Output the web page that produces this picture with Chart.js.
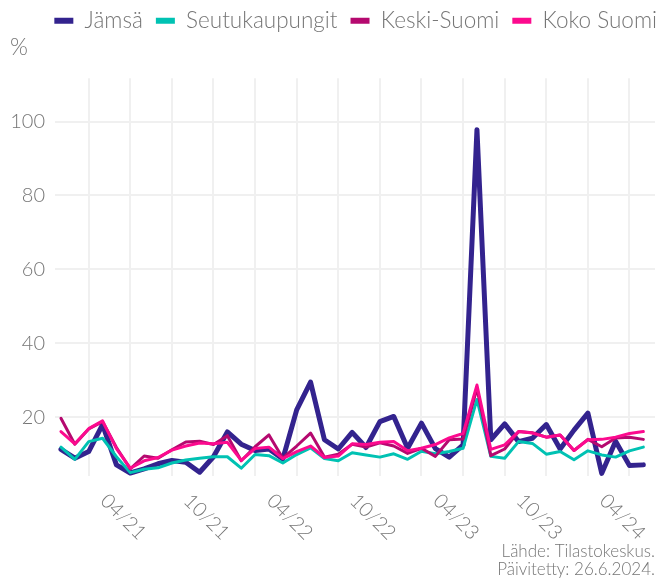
<!DOCTYPE html>
<html>
<head>
<meta charset="utf-8">
<script src="https://cdn.jsdelivr.net/npm/chart.js@4.4.1/dist/chart.umd.min.js"></script>
<style>
  html, body { margin: 0; padding: 0; background: #fff; }
</style>
</head>
<body>
<canvas id="chart" width="659" height="579"></canvas>
<script>
// kuukaudet 11/2020 - 05/2024
const months = [
  '11/20', '12/20', '01/21', '02/21', '03/21', '04/21', '05/21', '06/21', '07/21', '08/21', '09/21', '10/21',
  '11/21', '12/21', '01/22', '02/22', '03/22', '04/22', '05/22', '06/22', '07/22', '08/22', '09/22', '10/22',
  '11/22', '12/22', '01/23', '02/23', '03/23', '04/23', '05/23', '06/23', '07/23', '08/23', '09/23', '10/23',
  '11/23', '12/23', '01/24', '02/24', '03/24', '04/24', '05/24'
];
const xTickLabels = ['04/21', '10/21', '04/22', '10/22', '04/23', '10/23', '04/24'];
const gridMonths = ['01', '04', '07', '10'];
const yTicks = [20, 40, 60, 80, 100];

const jamsa = [
  11.3, 8.9, 10.7, 18.0, 7.1, 4.9, 6.0, 7.4, 8.3, 7.8, 5.1, 9.3,
  16.0, 12.7, 11.0, 11.4, 8.7, 22.0, 29.5, 13.9, 11.4, 15.9, 11.8, 18.8,
  20.2, 11.6, 18.4, 11.5, 9.2, 12.5, 97.8, 13.9, 18.2, 13.4, 14.3, 18.0,
  11.4, 16.5, 21.1, 4.8, 13.5, 6.9, 7.1
];
const seutukaupungit = [
  11.9, 8.6, 13.4, 14.3, 9.3, 5.0, 5.9, 6.3, 7.6, 8.4, 8.9, 9.3,
  9.3, 6.2, 9.9, 9.6, 7.6, 9.9, 11.7, 8.8, 8.2, 10.4, 9.8, 9.2,
  10.1, 8.6, 10.8, 10.1, 10.7, 11.6, 24.8, 9.4, 8.9, 13.4, 12.9, 10.0,
  10.7, 8.5, 10.9, 9.8, 9.2, 10.9, 11.9
];
const keskiSuomi = [
  19.7, 12.7, 16.8, 18.8, 11.8, 6.0, 9.5, 8.9, 11.2, 13.3, 13.5, 12.6,
  15.0, 8.2, 12.0, 15.2, 8.9, 12.2, 15.7, 9.2, 10.0, 12.7, 11.9, 13.1,
  12.2, 10.2, 11.6, 9.4, 13.9, 14.1, 27.8, 9.6, 11.4, 16.1, 15.8, 14.6,
  15.2, 11.0, 14.0, 12.0, 14.4, 14.6, 14.0
];
const kokoSuomi = [
  16.1, 12.8, 16.9, 19.0, 11.5, 6.2, 8.2, 9.1, 11.1, 12.2, 13.0, 12.8,
  13.2, 8.3, 11.5, 11.9, 8.8, 10.7, 12.2, 9.1, 9.5, 12.8, 12.6, 13.2,
  13.4, 10.9, 11.6, 12.6, 14.4, 15.6, 28.7, 11.3, 12.5, 16.1, 15.7, 14.6,
  15.2, 11.0, 13.9, 14.0, 14.6, 15.6, 16.1
];

const FONT = 'Lato';
const TEXT = '#767676';
const GRID = '#f0f0f0';

const toPoints = values => values.map((v, i) => ({ x: i, y: v }));

// pystyviivat neljännesvuosittain
const gridIdx = months
  .map((m, i) => (gridMonths.includes(m.slice(0, 2)) ? i : -1))
  .filter(i => i >= 0);

// x-akselin nimiöt kallistettuna myötäpäivään
const slantedLabels = {
  id: 'slantedLabels',
  afterDraw(chart) {
    const ctx = chart.ctx;
    const xs = chart.scales.x;
    const y0 = chart.chartArea.bottom + 41;
    ctx.save();
    ctx.font = `300 20px ${FONT}`;
    ctx.fillStyle = TEXT;
    ctx.textAlign = 'center';
    ctx.textBaseline = 'middle';
    xTickLabels.forEach(lbl => {
      const px = xs.getPixelForValue(months.indexOf(lbl)) - 7;
      ctx.save();
      ctx.translate(px, y0);
      ctx.rotate(45 * Math.PI / 180);
      ctx.fillText(lbl, 0, 0);
      ctx.restore();
    });
    ctx.restore();
  }
};

// selite kiinni oikeaan reunaan
const legendShift = {
  id: 'legendShift',
  afterLayout(chart) {
    chart.legend.left += 15;
    chart.legend.right += 15;
  }
};

const line = (label, values, color, width, order) => ({
  label: label,
  data: toPoints(values),
  borderColor: color,
  backgroundColor: color,
  borderWidth: width,
  pointRadius: 0,
  borderJoinStyle: 'round',
  borderCapStyle: 'round',
  fill: false,
  tension: 0,
  order: order
});

new Chart(document.getElementById('chart'), {
  type: 'line',
  data: {
    datasets: [
      line('Jämsä', jamsa, '#33238e', 5, 4),
      line('Seutukaupungit', seutukaupungit, '#00c2b3', 3, 3),
      line('Keski-Suomi', keskiSuomi, '#b5096f', 3, 2),
      line('Koko Suomi', kokoSuomi, '#fc0a8e', 3, 1)
    ]
  },
  options: {
    responsive: false,
    animation: false,
    layout: { padding: { left: 10, right: 4, top: -3.5, bottom: 0 } },
    plugins: {
      legend: {
        position: 'top',
        align: 'end',
        labels: {
          boxWidth: 19,
          boxHeight: 6,
          padding: 13,
          color: TEXT,
          font: { family: FONT, size: 22.5, weight: 300 },
          generateLabels: chart => chart.data.datasets.map((ds, i) => ({
            text: ds.label,
            fillStyle: ds.borderColor,
            strokeStyle: ds.borderColor,
            lineWidth: 0,
            hidden: false,
            fontColor: TEXT,
            datasetIndex: i
          }))
        }
      },
      title: {
        display: true,
        text: '%',
        align: 'start',
        weight: 500,
        color: TEXT,
        font: { family: FONT, size: 23, weight: 300 },
        padding: { top: -7.8, bottom: 16.5 }
      },
      subtitle: {
        display: true,
        position: 'bottom',
        align: 'end',
        text: ['Lähde: Tilastokeskus.', 'Päivitetty: 26.6.2024.'],
        color: TEXT,
        font: { family: FONT, size: 17, weight: 300, lineHeight: 1.06 },
        padding: { top: 0, bottom: 0 }
      },
      tooltip: { enabled: false }
    },
    scales: {
      x: {
        type: 'linear',
        min: -0.43,
        max: 42.84,
        border: { display: false },
        grid: { color: GRID, lineWidth: 2, drawTicks: false },
        ticks: { display: false },
        afterBuildTicks: scale => { scale.ticks = gridIdx.map(v => ({ value: v })); },
        afterFit: scale => { scale.height = 67; }
      },
      y: {
        type: 'linear',
        min: 4.1,
        max: 111.7,
        border: { display: false },
        grid: { color: GRID, lineWidth: 2, drawTicks: false },
        ticks: {
          padding: 10,
          color: TEXT,
          font: { family: FONT, size: 20, weight: 300 }
        },
        afterBuildTicks: scale => { scale.ticks = yTicks.map(v => ({ value: v })); },
        afterFit: scale => { scale.width = 45; }
      }
    }
  },
  plugins: [slantedLabels, legendShift]
});
</script>
</body>
</html>
